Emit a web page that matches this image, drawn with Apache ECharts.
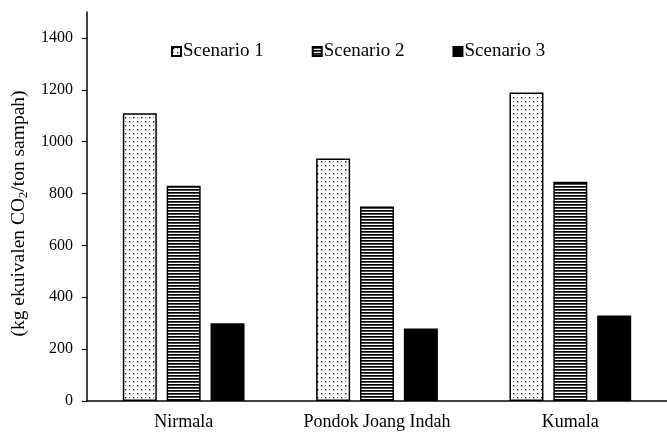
<!DOCTYPE html>
<html>
<head>
<meta charset="utf-8">
<script src="https://cdn.jsdelivr.net/npm/echarts@6/dist/echarts.min.js"></script>
<style>html,body{margin:0;padding:0;background:#fff}#c{width:667px;height:432px}</style>
</head>
<body>
<div id="c"></div>
<script>
const categories = ['Nirmala', 'Pondok Joang Indah', 'Kumala'];
const seriesNames = ['Scenario 1', 'Scenario 2', 'Scenario 3'];
const scenario1 = [1110, 935, 1190];
const scenario2 = [830, 750, 845];
const scenario3 = [300, 280, 330];
const yTicks = [0, 200, 400, 600, 800, 1000, 1200, 1400];

function dotPattern() {
  const c = document.createElement('canvas');
  c.width = 8; c.height = 8;
  const g = c.getContext('2d');
  g.fillStyle = '#fff'; g.fillRect(0, 0, 8, 8);
  g.fillStyle = '#222';
  g.fillRect(1, 1, 1.4, 1.4);
  g.fillRect(5, 5, 1.4, 1.4);
  g.fillStyle = '#777';
  g.fillRect(5, 1, 1, 1);
  g.fillRect(1, 5, 1, 1);
  return c;
}
function stripePattern() {
  const c = document.createElement('canvas');
  c.width = 4; c.height = 3;
  const g = c.getContext('2d');
  g.fillStyle = '#fff'; g.fillRect(0, 0, 4, 3);
  g.fillStyle = '#000'; g.fillRect(0, 0, 4, 1.7);
  return c;
}
const fills = [
  { image: dotPattern(), repeat: 'repeat' },
  { image: stripePattern(), repeat: 'repeat' },
  '#000'
];
const dataSets = [scenario1, scenario2, scenario3];

const chart = echarts.init(document.getElementById('c'), null, { renderer: 'canvas' });
chart.setOption({
  animation: false,
  textStyle: { fontFamily: 'Liberation Serif', color: '#000' },
  legend: {
    top: 37,
    left: 166,
    itemWidth: 9,
    itemHeight: 9,
    itemGap: 48,
    icon: 'rect',
    textStyle: { fontFamily: 'Liberation Serif', fontSize: 19, color: '#000', padding: [0, 0, 0, -3] },
    data: seriesNames
  },
  grid: { left: 87, top: 12, bottom: 31, right: -10, containLabel: false },
  xAxis: {
    type: 'category',
    data: categories,
    axisLine: { lineStyle: { color: '#000', width: 1.5 } },
    axisTick: { show: false },
    axisLabel: { fontFamily: 'Liberation Serif', fontSize: 18, color: '#000', margin: 12 }
  },
  yAxis: {
    type: 'value',
    min: 0,
    max: 1500,
    interval: 100,
    name: '(kg ekuivalen CO{sub|2}/ton sampah)',
    nameLocation: 'middle',
    nameRotate: 90,
    nameGap: 43,
    nameTextStyle: {
      fontFamily: 'Liberation Serif', fontSize: 19.5, color: '#000',
      padding: [0, 14, 0, 0],
      rich: { sub: { fontFamily: 'Liberation Serif', fontSize: 12.5, color: '#000', verticalAlign: 'bottom', padding: [9, 0, 0, 0] } }
    },
    axisLine: { show: true, lineStyle: { color: '#000', width: 1.5 } },
    axisTick: { show: true, length: 5, lineStyle: { color: '#000', width: 1.2 }, customValues: yTicks },
    axisLabel: { fontFamily: 'Liberation Serif', fontSize: 16, color: '#000', margin: 14, customValues: yTicks, formatter: v => String(v) },
    splitLine: { show: false }
  },
  series: dataSets.map((d, i) => ({
    name: seriesNames[i],
    type: 'bar',
    data: d,
    barWidth: 34,
    barGap: '29%',
    itemStyle: { color: fills[i], borderColor: '#000', borderWidth: 1.5 }
  }))
});
</script>
</body>
</html>
